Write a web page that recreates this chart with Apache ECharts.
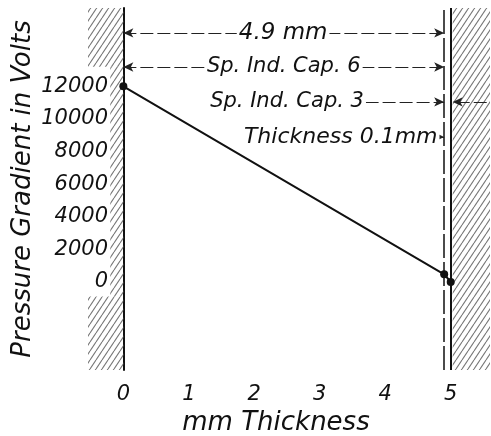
<!DOCTYPE html>
<html><head><meta charset="utf-8">
<script src="https://cdn.jsdelivr.net/npm/echarts@6/dist/echarts.min.js"></script>
<style>html,body{margin:0;padding:0;background:#fff}#c{width:491px;height:436px}</style>
</head><body><div id="c"></div>
<script>
// ---- data ----
const thicknessMm = [0, 4.9, 5.0];
const volts = [12000, 471, 0];
const xTicks = [0, 1, 2, 3, 4, 5];
const yTicks = [0, 2000, 4000, 6000, 8000, 10000, 12000];
const dimTexts = ['4.9 mm', 'Sp. Ind. Cap. 6', 'Sp. Ind. Cap. 3', 'Thickness 0.1mm'];
const xTitle = 'mm Thickness';
const yTitle = 'Pressure Gradient in Volts';

// ---- layout constants (axis-space) ----
const X_MIN = -0.54, X_MAX = 5.6, Y_MIN = -5400, Y_MAX = 16800;
const rowY = [15270, 13180, 11040, 8890];
const textX = [2.44, 2.45, 2.5, 3.32];
const textSize = [23, 21, 21, 22];
const FONT = 'DejaVu Sans';

function hatch() {
  const w = 6, h = 9;
  const c = document.createElement('canvas');
  c.width = w; c.height = h;
  const g = c.getContext('2d');
  g.strokeStyle = '#777';
  g.lineWidth = 1.1;
  for (const o of [-1, 0, 1]) {
    g.beginPath();
    g.moveTo(o * w, h);
    g.lineTo(o * w + w, 0);
    g.stroke();
  }
  return { image: c, repeat: 'repeat' };
}
const pat = hatch();

const data = thicknessMm.map((x, i) => [x, volts[i]]);
const txtStyle = { fontFamily: FONT, fontStyle: 'italic', color: '#111' };

const dimLines = [
  [{ coord: [0, rowY[0]], symbol: 'arrow' }, { coord: [4.9, rowY[0]], symbol: 'arrow' }],
  [{ coord: [0, rowY[1]], symbol: 'arrow' }, { coord: [4.9, rowY[1]], symbol: 'arrow' }],
  [{ coord: [3.7, rowY[2]], symbol: 'none' }, { coord: [4.9, rowY[2]], symbol: 'arrow' }],
  [{ coord: [5.55, rowY[2]], symbol: 'none' }, { coord: [5.03, rowY[2]], symbol: 'arrow' }],
  [{ coord: [4.8, rowY[3]], symbol: 'none' }, { coord: [4.9, rowY[3]], symbol: 'arrow' }]
];

const chart = echarts.init(document.getElementById('c'), null, { renderer: 'canvas' });
chart.setOption({
  animation: false,
  backgroundColor: '#fff',
  grid: { left: 88, right: 1, top: 8, bottom: 66, containLabel: false, outerBoundsMode: 'none' },
  xAxis: {
    type: 'value', min: X_MIN, max: X_MAX,
    axisLine: { show: false, onZero: false },
    axisTick: { show: false },
    splitLine: { show: false },
    axisLabel: { customValues: xTicks, margin: 14, fontSize: 21, ...txtStyle },
    name: xTitle, nameLocation: 'middle', nameGap: 32,
    nameTextStyle: { fontSize: 26, ...txtStyle, padding: [0, 26, 0, 0] }
  },
  yAxis: {
    type: 'value', min: Y_MIN, max: Y_MAX,
    axisLine: { show: true, onZero: true, lineStyle: { color: '#111', width: 2 } },
    axisTick: { show: false },
    splitLine: { show: false },
    axisLabel: { customValues: yTicks, margin: -20, fontSize: 21, ...txtStyle, formatter: v => String(v) },
    name: yTitle, nameLocation: 'middle', nameGap: 52, nameRotate: 90, nameMoveOverlap: false,
    nameTextStyle: { fontSize: 26, ...txtStyle }
  },
  series: [
    {
      type: 'line', data: [], silent: true,
      markArea: {
        silent: true,
        itemStyle: { color: pat, opacity: 1 },
        data: [
          [{ coord: [X_MIN, 13200] }, { coord: [0, Y_MAX] }],
          [{ coord: [-0.2, -900] }, { coord: [0, 13200] }],
          [{ coord: [X_MIN, Y_MIN] }, { coord: [0, -900] }],
          [{ coord: [5.03, Y_MIN] }, { coord: [X_MAX, Y_MAX] }]
        ]
      }
    },
    {
      type: 'line', data: [], silent: true,
      markLine: {
        silent: true, symbol: ['none', 'none'], label: { show: false },
        data: [
          { xAxis: 4.9, lineStyle: { color: '#111', width: 1.5, type: [24, 4] } },
          { xAxis: 5.0, lineStyle: { color: '#111', width: 2, type: 'solid' } }
        ]
      }
    },
    {
      type: 'line', data: [], silent: true, z: 3,
      markLine: {
        silent: true, symbolSize: [7, 10], label: { show: false },
        lineStyle: { color: '#222', width: 1, type: [13, 4] },
        data: dimLines
      }
    },
    {
      type: 'line', data: data, z: 4,
      symbol: 'circle', symbolSize: 8,
      lineStyle: { color: '#111', width: 2 },
      itemStyle: { color: '#111' }
    },
    {
      type: 'scatter', data: [], silent: true, z: 6,
      markPoint: {
        silent: true,
        data: dimTexts.map((t, i) => ({
          coord: [textX[i], rowY[i]], symbol: 'rect', symbolSize: 1,
          itemStyle: { color: 'rgba(0,0,0,0)' },
          label: {
            show: true, position: 'inside', formatter: t,
            fontSize: textSize[i], ...txtStyle,
            backgroundColor: '#fff', padding: [1, 2]
          }
        }))
      }
    }
  ]
});
</script>
</body></html>
